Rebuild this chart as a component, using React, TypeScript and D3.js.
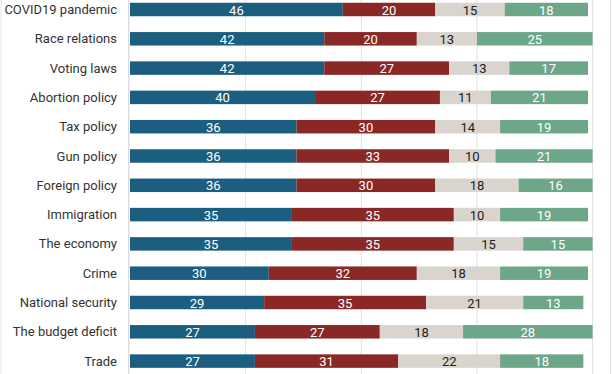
import React from "react";
import * as d3 from "d3";

const categories = [
  "COVID19 pandemic",
  "Race relations",
  "Voting laws",
  "Abortion policy",
  "Tax policy",
  "Gun policy",
  "Foreign policy",
  "Immigration",
  "The economy",
  "Crime",
  "National security",
  "The budget deficit",
  "Trade",
];
const seriesA = [46, 42, 42, 40, 36, 36, 36, 35, 35, 30, 29, 27, 27];
const seriesB = [20, 20, 27, 27, 30, 33, 30, 35, 35, 32, 35, 27, 31];
const seriesC = [15, 13, 13, 11, 14, 10, 18, 10, 15, 18, 21, 18, 22];
const seriesD = [18, 25, 17, 21, 19, 21, 16, 19, 15, 19, 13, 28, 18];
const gridTicks = [0, 25, 50, 75, 100];

const seriesList = [seriesA, seriesB, seriesC, seriesD];
const colors = ["#1b5e80", "#892825", "#d9d4ce", "#6ea68a"];
const textColors = ["#ffffff", "#ffffff", "#222222", "#ffffff"];

const W = 612;
const H = 374;

export default function App() {
  const x = d3.scaleLinear().domain([0, 100]).range([130, 592.6]);
  const y = d3
    .scaleBand<string>()
    .domain(categories)
    .range([-5.15, 375.75])
    .paddingInner(0.54)
    .paddingOuter(0.27);
  const stack = categories.map((c, i) => {
    let acc = 0;
    return seriesList.map((s, k) => {
      const v = s[i];
      const seg = { k, v, x0: acc, x1: acc + v };
      acc += v;
      return seg;
    });
  });
  const font = "Roboto, 'Noto Sans', sans-serif";
  return (
    <svg
      width={W}
      height={H}
      style={{ position: "absolute", left: 0, top: 0, background: "#fff" }}
      fontFamily={font}
    >
      <rect x={0} y={0} width={W} height={H} fill="#fff" />
      <line x1={1} x2={1} y1={0} y2={H} stroke="#e4e4e4" />
      <line x1={610.5} x2={610.5} y1={0} y2={H} stroke="#e4e4e4" />
      {gridTicks.slice(1).map((t) => (
        <line
          key={t}
          x1={x(t)}
          x2={x(t)}
          y1={0}
          y2={H}
          stroke="#e0e0e0"
          strokeWidth={1}
        />
      ))}
      <line x1={128.8} x2={128.8} y1={0} y2={H} stroke="#cfcbd6" strokeWidth={1} />
      {categories.map((c, i) => {
        const yc = (y(c) as number) + y.bandwidth() / 2;
        return (
          <g key={c}>
            <text
              x={117}
              y={yc}
              textAnchor="end"
              dominantBaseline="central"
              fontSize={13}
              fill="#333"
            >
              {c}
            </text>
            {stack[i].map((s) => (
              <g key={s.k}>
                <rect
                  x={x(s.x0)}
                  y={y(c)}
                  width={x(s.x1) - x(s.x0)}
                  height={y.bandwidth()}
                  fill={colors[s.k]}
                />
                <text
                  x={(x(s.x0) + x(s.x1)) / 2}
                  y={yc + 0.5}
                  textAnchor="middle"
                  dominantBaseline="central"
                  fontSize={13}
                  fill={textColors[s.k]}
                >
                  {s.v}
                </text>
              </g>
            ))}
          </g>
        );
      })}
    </svg>
  );
}
